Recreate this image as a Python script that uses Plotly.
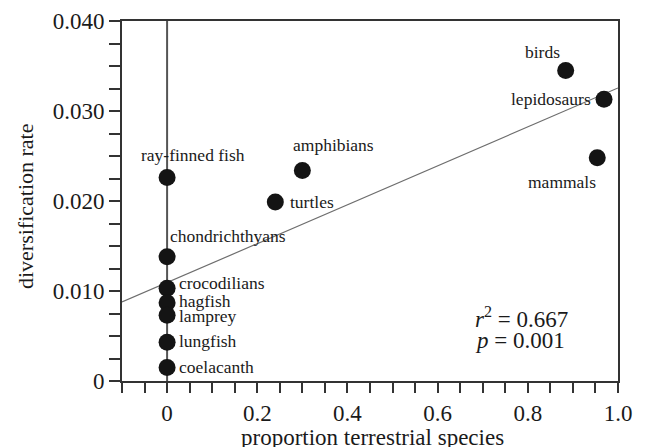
import plotly.graph_objects as go

# ---- data ----
groups = ["ray-finned fish", "amphibians", "turtles", "birds", "lepidosaurs", "mammals",
          "chondrichthyans", "crocodilians", "hagfish", "lamprey", "lungfish", "coelacanth"]
prop_terrestrial = [0.0, 0.30, 0.24, 0.884, 0.969, 0.954, 0.0, 0.0, 0.0, 0.0, 0.0, 0.0]
div_rate = [0.0226, 0.0234, 0.0199, 0.0345, 0.0313, 0.0248,
            0.0138, 0.0103, 0.0087, 0.0073, 0.0043, 0.0015]

fit_intercept = 0.01094
fit_slope = 0.02162
r2_text = "0.667"
p_text = "0.001"

x_tickvals = [0, 0.2, 0.4, 0.6, 0.8, 1.0]
x_ticktext = ["0", "0.2", "0.4", "0.6", "0.8", "1.0"]
y_tickvals = [0, 0.01, 0.02, 0.03, 0.04]
y_ticktext = ["0", "0.010", "0.020", "0.030", "0.040"]

x_title = "proportion terrestrial species"
y_title = "diversification rate"

# label placement (xanchor, xshift px, yshift px)
label_pos = {
    "ray-finned fish": ("center", 26, 23),
    "amphibians": ("center", 31, 25),
    "turtles": ("left", 13, 0),
    "birds": ("center", -23, 19),
    "lepidosaurs": ("right", -11, 0),
    "mammals": ("center", -35, -24),
    "chondrichthyans": ("left", 1, 21),
    "crocodilians": ("left", 10, 5),
    "hagfish": ("left", 10, 2),
    "lamprey": ("left", 10, -1),
    "lungfish": ("left", 10, 1),
    "coelacanth": ("left", 10, 1),
}

FONT = "Liberation Serif, Times New Roman, serif"
AX = "#333333"
TXT = "#1a1a1a"

fig = go.Figure()

x_range = [-0.1, 1.0]
fig.add_trace(go.Scatter(
    x=x_range, y=[fit_intercept + fit_slope * v for v in x_range],
    mode="lines", line=dict(color="#6e6e6e", width=1.2),
    hoverinfo="skip", showlegend=False, cliponaxis=True))

fig.add_shape(type="line", xref="x", yref="paper", x0=0, x1=0, y0=0, y1=1,
              line=dict(color="#555555", width=2), layer="below")

fig.add_trace(go.Scatter(
    x=prop_terrestrial, y=div_rate, mode="markers",
    marker=dict(color="#141414", size=17), showlegend=False, cliponaxis=False))

annotations = []
for g, xv, yv in zip(groups, prop_terrestrial, div_rate):
    anc, xs, ys = label_pos[g]
    annotations.append(dict(x=xv, y=yv, xref="x", yref="y", text=g, showarrow=False,
                            xanchor=anc, yanchor="middle", xshift=xs, yshift=ys,
                            font=dict(family=FONT, size=17.5, color=TXT)))

annotations.append(dict(x=0.678, y=0.0071, xref="x", yref="y",
                        text="<i>r</i><sup>2</sup> = " + r2_text, showarrow=False,
                        xanchor="left", yanchor="middle",
                        font=dict(family=FONT, size=23, color=TXT)))
annotations.append(dict(x=0.678, y=0.00455, xref="x", yref="y",
                        text="<i>p</i> = " + p_text, showarrow=False,
                        xanchor="left", yanchor="middle",
                        font=dict(family=FONT, size=23, color=TXT)))

# axis titles
annotations.append(dict(x=0.505, y=0, xref="paper", yref="paper", text=x_title,
                        showarrow=False, xanchor="center", yanchor="middle", yshift=-56,
                        font=dict(family=FONT, size=23, color=TXT)))
annotations.append(dict(x=0, y=0.486, xref="paper", yref="paper", text=y_title,
                        showarrow=False, xanchor="center", yanchor="middle", xshift=-97,
                        textangle=-90, font=dict(family=FONT, size=22, color=TXT)))

# page body has an 8px default margin, so the figure is offset by 8px
fig.update_layout(
    width=638, height=439,
    margin=dict(l=114, r=28, t=13, b=66, autoexpand=False),
    paper_bgcolor="white", plot_bgcolor="white",
    font=dict(family=FONT, color=TXT),
    annotations=annotations,
    xaxis=dict(range=x_range, showgrid=False, zeroline=False, automargin=False,
               showline=True, linecolor=AX, linewidth=2, mirror=True,
               tickvals=x_tickvals, ticktext=x_ticktext,
               ticks="outside", ticklen=10, tickwidth=1.5, tickcolor=AX,
               minor=dict(dtick=0.05, tick0=0, ticks="outside", ticklen=10,
                          tickwidth=1.5, tickcolor=AX, showgrid=False),
               tickfont=dict(family=FONT, size=23, color=TXT)),
    yaxis=dict(range=[0, 0.04], showgrid=False, zeroline=False, automargin=False,
               showline=True, linecolor=AX, linewidth=2, mirror=True,
               tickvals=y_tickvals, ticktext=y_ticktext,
               ticks="outside", ticklen=11, tickwidth=1.5, tickcolor=AX,
               minor=dict(dtick=0.0025, tick0=0, ticks="outside", ticklen=11,
                          tickwidth=1.5, tickcolor=AX, showgrid=False),
               tickfont=dict(family=FONT, size=23, color=TXT)),
)

fig.write_html("out.html")
